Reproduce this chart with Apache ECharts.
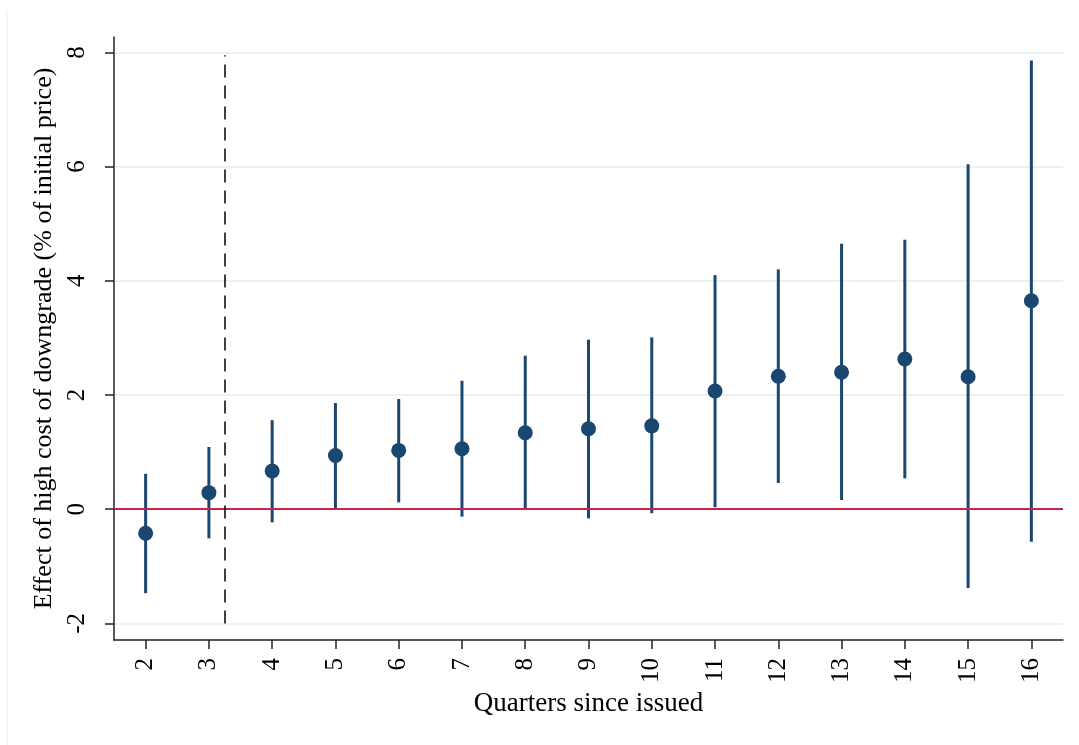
<!DOCTYPE html>
<html>
<head>
<meta charset="utf-8">
<script src="https://cdn.jsdelivr.net/npm/echarts@6/dist/echarts.min.js"></script>
<style>
html,body{margin:0;padding:0;background:#fff;}
#chart{width:1079px;height:745px;}
</style>
</head>
<body>
<div id="chart"></div>
<script>
// Data
var quarters = [2, 3, 4, 5, 6, 7, 8, 9, 10, 11, 12, 13, 14, 15, 16];
var coef   = [-0.42, 0.29, 0.67, 0.94, 1.03, 1.06, 1.34, 1.41, 1.46, 2.07, 2.33, 2.40, 2.63, 2.32, 3.65];
var ciLow  = [-1.47, -0.51, -0.23, 0.02, 0.12, -0.13, -0.01, -0.16, -0.07, 0.035, 0.46, 0.16, 0.54, -1.38, -0.57];
var ciHigh = [0.62, 1.09, 1.56, 1.86, 1.93, 2.25, 2.69, 2.97, 3.01, 4.10, 4.20, 4.65, 4.72, 6.04, 7.86];
var yTicks = [-2, 0, 2, 4, 6, 8];
var refLineX = 3.25;
var refLineFrom = -2;
var refLineTo = 7.95;
var zeroLine = 0;

var FONT = '"Liberation Serif", "DejaVu Serif", serif';
var NAVY = '#1a476f';

var pointData = quarters.map(function (q, i) { return [q, coef[i]]; });
var ciData = quarters.map(function (q, i) { return [q, ciLow[i], ciHigh[i]]; });

var chart = echarts.init(document.getElementById('chart'), null, {renderer: 'canvas'});
chart.setOption({
  animation: false,
  backgroundColor: '#ffffff',
  graphic: [{
    type: 'line',
    shape: {x1: 7, y1: 10, x2: 7, y2: 745},
    style: {stroke: '#eef3f5', lineWidth: 1.5},
    silent: true
  }],
  grid: {left: 114, right: 16, top: 37, bottom: 105, containLabel: false},
  xAxis: {
    type: 'value',
    min: 1.5,
    max: 16.5,
    name: 'Quarters since issued',
    nameLocation: 'middle',
    nameGap: 48,
    nameTextStyle: {fontFamily: FONT, fontSize: 27, color: '#000'},
    axisLine: {show: true, onZero: false, lineStyle: {color: '#222', width: 1.5}},
    axisTick: {show: true, customValues: quarters, length: 9, lineStyle: {color: '#222', width: 1.5}},
    axisLabel: {customValues: quarters, rotate: 90, margin: 18, fontFamily: FONT, fontSize: 25, color: '#000'},
    splitLine: {show: false}
  },
  yAxis: {
    type: 'value',
    min: -2.29,
    max: 8.27,
    name: 'Effect of high cost of downgrade (% of initial price)',
    nameLocation: 'middle',
    nameGap: 48,
    nameTextStyle: {fontFamily: FONT, fontSize: 26, color: '#000'},
    axisLine: {show: true, onZero: false, lineStyle: {color: '#222', width: 1.5}},
    axisTick: {show: true, customValues: yTicks, length: 9, lineStyle: {color: '#222', width: 1.5}},
    axisLabel: {customValues: yTicks, rotate: 90, margin: 24, fontFamily: FONT, fontSize: 25, color: '#000'},
    splitLine: {show: true, lineStyle: {color: '#eaf2f3', width: 2}}
  },
  series: [
    {
      type: 'custom',
      name: 'CI',
      data: ciData,
      encode: {x: 0, y: [1, 2]},
      renderItem: function (params, api) {
        var x = api.value(0);
        var lo = api.coord([x, api.value(1)]);
        var hi = api.coord([x, api.value(2)]);
        return {
          type: 'line',
          shape: {x1: lo[0], y1: lo[1], x2: hi[0], y2: hi[1]},
          style: {stroke: NAVY, lineWidth: 3}
        };
      },
      z: 3
    },
    {
      type: 'scatter',
      name: 'Coefficient',
      data: pointData,
      symbol: 'circle',
      symbolSize: 15,
      itemStyle: {color: NAVY, opacity: 1},
      z: 4,
      markLine: {
        silent: true,
        symbol: ['none', 'none'],
        label: {show: false},
        data: [
          {yAxis: zeroLine, lineStyle: {color: '#c8234f', width: 2, type: 'solid'}},
          [
            {coord: [refLineX, refLineFrom], lineStyle: {color: '#000', width: 1.5, type: [13, 8]}},
            {coord: [refLineX, refLineTo]}
          ]
        ]
      }
    }
  ]
});
</script>
</body>
</html>
